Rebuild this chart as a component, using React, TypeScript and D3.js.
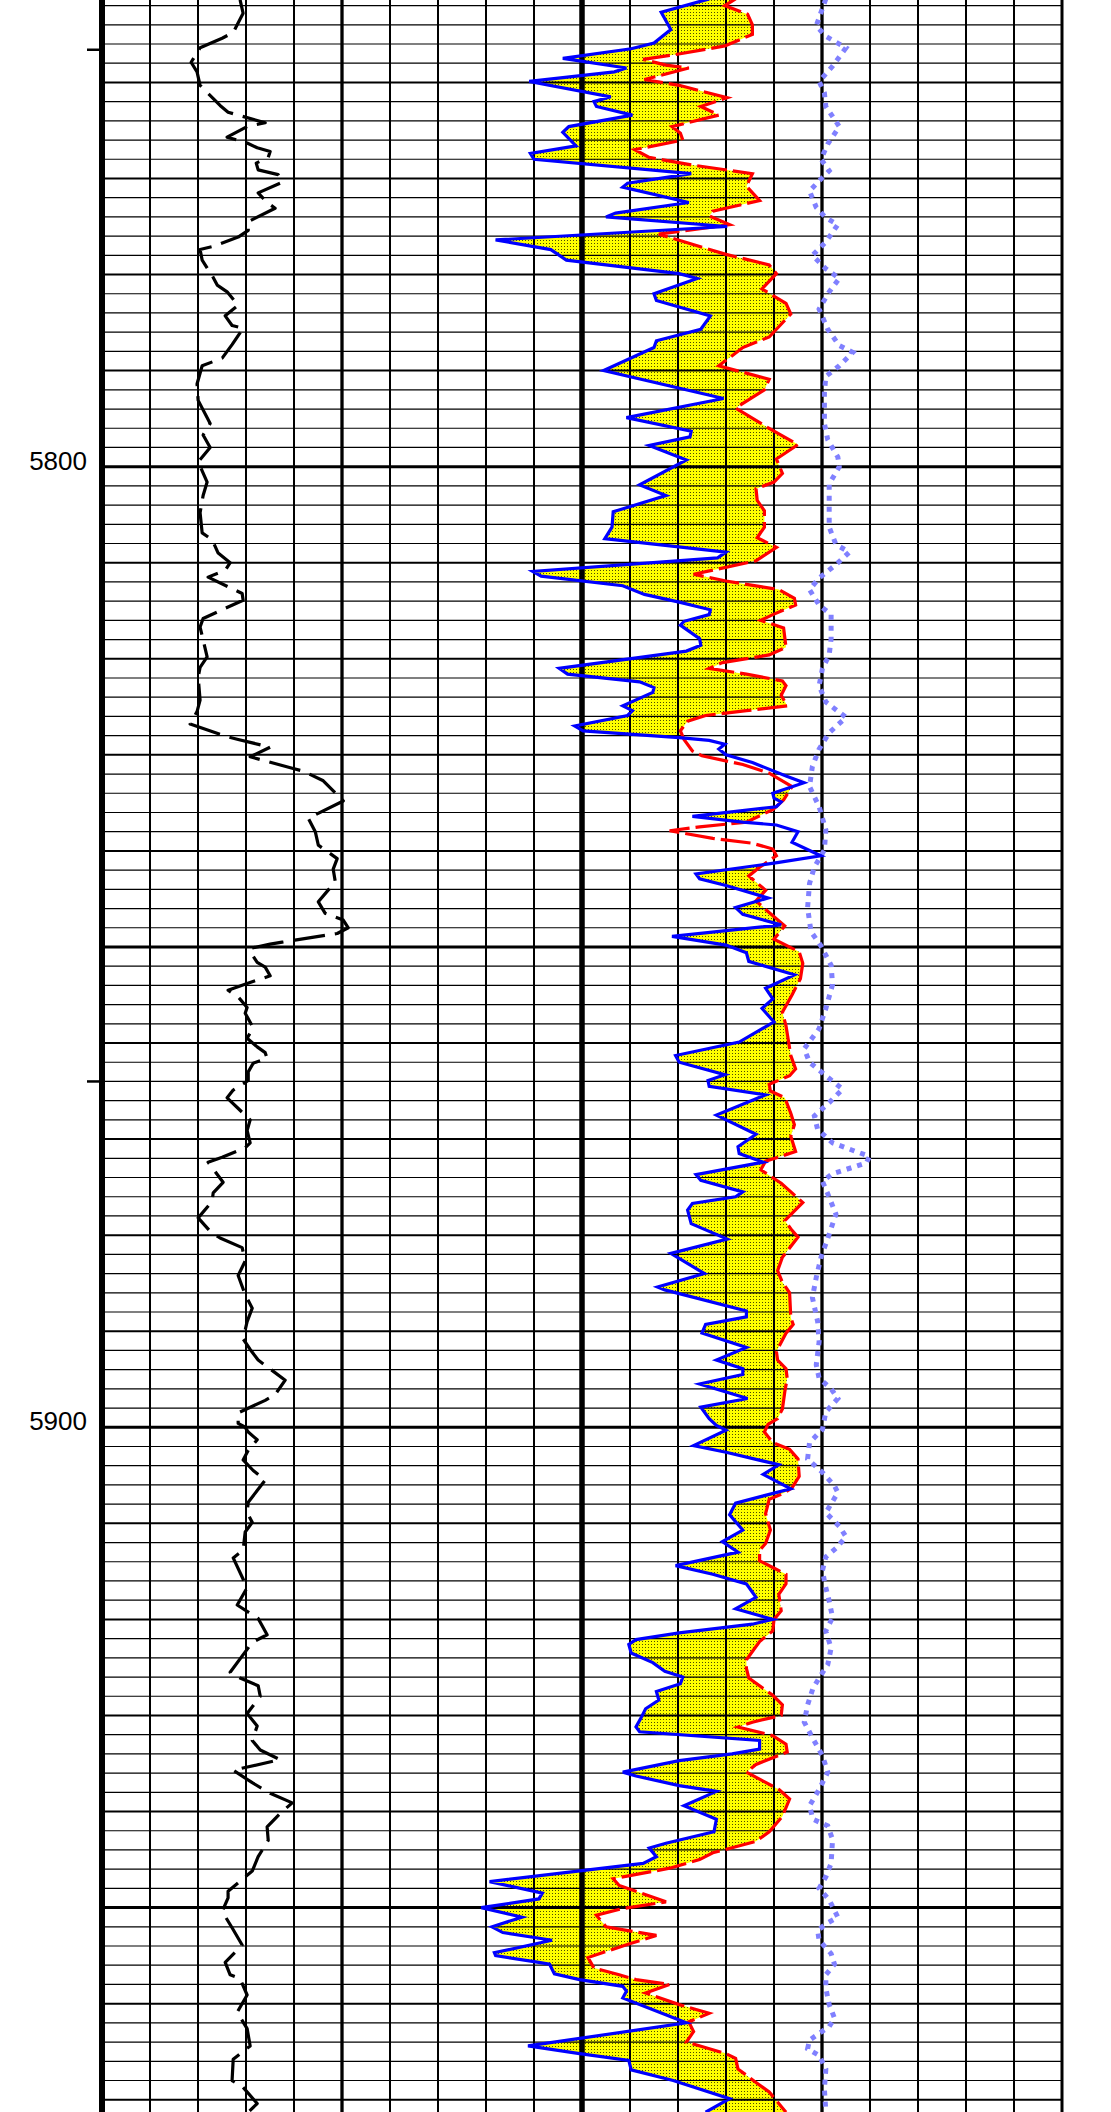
import React from 'react';
import * as d3 from 'd3';

type P = [number, number]; // [depth, value]

const W = 1111;
const H = 2112;
const DEPTH_TOP = 5751.42;
const DEPTH_BOTTOM = 5971.28;
const X_LEFT = 102;
const X_RIGHT = 1062;

const depthLabels = [5800, 5900];
const depthTicks = [5756.6, 5864.0];

// Gamma ray (track 1, 0-150)
const gammaRay: P[] = [
  [5751.4, 86.3], [5752.8, 88.2], [5754.8, 82.0], [5755.4, 75.1], [5756.4, 61.3], [5757.9, 55.7], [5758.9, 59.4],
  [5760.3, 61.3], [5762.4, 73.8], [5763.1, 78.8], [5764.2, 102.0], [5764.6, 90.7], [5765.7, 78.2], [5766.3, 90.7],
  [5766.8, 97.0], [5767.2, 105.1], [5767.8, 103.9], [5768.4, 96.4], [5769.1, 97.6], [5769.6, 110.1], [5770.4, 112.6],
  [5771.5, 97.6], [5772.5, 103.2], [5773.1, 108.2], [5774.5, 91.4], [5775.4, 91.4], [5776.1, 85.1], [5777.1, 68.8],
  [5777.4, 61.3], [5778.5, 62.6], [5780.3, 69.5], [5781.1, 72.0], [5781.8, 78.2], [5783.2, 85.1], [5784.3, 77.0],
  [5785.3, 81.3], [5785.6, 88.2], [5787.3, 81.3], [5788.7, 75.1], [5789.5, 62.6], [5791.4, 59.4], [5793.1, 60.1],
  [5795.5, 67.6], [5796.7, 63.2], [5798.0, 67.6], [5799.5, 60.1], [5801.6, 65.7], [5803.0, 63.2], [5804.8, 61.3],
  [5806.9, 62.6], [5807.6, 68.8], [5809.0, 72.6], [5810.0, 80.1], [5810.8, 77.0], [5811.5, 66.3], [5813.2, 87.6],
  [5813.9, 88.2], [5815.8, 63.2], [5816.7, 61.3], [5819.8, 65.7], [5820.9, 61.3], [5821.9, 60.1], [5824.3, 61.3],
  [5825.5, 59.4], [5826.8, 55.1], [5828.1, 78.2], [5828.4, 85.1], [5829.2, 105.1], [5830.2, 92.6], [5831.4, 118.9],
  [5831.7, 125.8], [5832.7, 138.3], [5834.8, 150.8], [5836.6, 128.9], [5838.0, 133.3], [5839.4, 135.2],
  [5840.8, 147.0], [5841.9, 144.5], [5843.2, 145.8], [5845.3, 135.2], [5846.5, 139.5], [5847.2, 150.8],
  [5848.0, 153.9], [5848.6, 147.0], [5849.5, 112.6], [5849.7, 105.1], [5850.1, 93.9], [5850.5, 92.6],
  [5851.6, 97.0], [5852.1, 102.0], [5853.0, 105.1], [5853.8, 90.7], [5854.5, 78.8], [5855.2, 85.1], [5856.3, 90.7],
  [5856.9, 89.5], [5858.4, 94.5], [5859.5, 90.7], [5860.4, 97.0], [5861.0, 102.0], [5861.6, 103.2], [5862.1, 94.5],
  [5863.0, 91.4], [5863.9, 91.4], [5864.9, 82.0], [5865.7, 78.2], [5867.0, 86.3], [5868.0, 92.6], [5869.1, 90.7],
  [5870.4, 92.6], [5870.9, 89.5], [5871.9, 75.1], [5872.4, 66.3], [5874.5, 75.7], [5875.6, 69.5], [5876.5, 68.8],
  [5878.2, 60.1], [5879.6, 67.6], [5880.3, 73.8], [5881.3, 87.6], [5882.7, 89.5], [5884.2, 85.1], [5886.2, 89.5],
  [5887.6, 93.9], [5889.0, 90.7], [5890.8, 88.2], [5891.9, 92.6], [5893.0, 97.6], [5893.7, 103.2], [5895.1, 114.5],
  [5896.6, 108.2], [5897.2, 102.0], [5898.5, 85.1], [5899.6, 85.1], [5900.0, 89.5], [5900.5, 91.4], [5901.3, 97.0],
  [5902.4, 91.4], [5903.4, 88.2], [5904.5, 94.5], [5905.5, 102.0], [5907.8, 91.4], [5908.9, 90.7], [5909.9, 93.9],
  [5910.9, 89.5], [5912.8, 88.2], [5913.6, 82.0], [5916.7, 90.7], [5918.5, 84.5], [5919.9, 97.6], [5921.6, 103.2],
  [5922.4, 93.9], [5925.5, 80.1], [5926.1, 86.3], [5926.9, 97.6], [5928.0, 98.9], [5929.8, 90.7], [5931.1, 97.0],
  [5932.6, 93.9], [5933.6, 98.9], [5934.6, 111.3], [5935.7, 82.0], [5937.0, 93.9], [5938.1, 105.1], [5939.1, 118.9],
  [5940.2, 111.3], [5941.6, 103.2], [5943.0, 103.9], [5944.7, 97.6], [5946.2, 93.9], [5948.3, 78.8], [5949.0, 78.8],
  [5950.4, 75.1], [5952.1, 81.3], [5953.9, 87.6], [5955.7, 77.0], [5957.0, 80.1], [5957.4, 86.3], [5959.1, 90.7],
  [5960.9, 84.5], [5962.6, 90.7], [5964.4, 92.6], [5965.8, 82.0], [5968.0, 81.3], [5968.6, 87.6], [5970.4, 97.0],
  [5971.3, 91.4],
];

// Neutron porosity, blue (45 .. -15)
const neutron: P[] = [
  [5751.3, 14.4], [5752.7, 18.4], [5754.5, 17.6], [5755.9, 19.0], [5756.5, 20.9], [5757.5, 26.6], [5758.5, 21.3],
  [5758.9, 22.3], [5759.9, 29.4], [5761.5, 22.6], [5762.0, 24.0], [5762.5, 23.8], [5763.4, 20.8], [5764.6, 26.1],
  [5765.2, 26.6], [5766.6, 25.5], [5767.4, 29.3], [5768.0, 29.0], [5769.5, 15.9], [5770.5, 21.2], [5770.9, 21.6],
  [5772.5, 16.1], [5773.6, 22.2], [5774.0, 23.0], [5775.0, 12.9], [5776.4, 32.2], [5777.4, 27.6], [5778.5, 26.3],
  [5779.9, 16.9], [5780.4, 15.4], [5782.0, 19.0], [5782.7, 18.8], [5784.3, 14.3], [5785.7, 15.1], [5786.9, 18.8],
  [5787.6, 19.0], [5790.0, 23.2], [5792.9, 13.2], [5794.9, 21.3], [5796.3, 15.9], [5796.9, 16.0], [5797.8, 19.4],
  [5799.3, 16.3], [5801.9, 20.2], [5803.0, 18.0], [5804.7, 22.4], [5806.3, 22.5], [5807.5, 23.1], [5808.9, 13.0],
  [5809.5, 13.7], [5810.9, 29.1], [5811.4, 28.4], [5812.4, 21.6], [5813.3, 19.8], [5814.1, 16.9], [5814.9, 14.3],
  [5815.4, 14.4], [5816.1, 16.5], [5816.5, 16.8], [5817.9, 15.2], [5818.6, 15.1], [5819.2, 16.3], [5821.0, 26.9],
  [5821.6, 26.2], [5822.4, 20.2], [5823.0, 19.0], [5823.5, 19.1], [5824.9, 21.6], [5825.4, 20.8], [5825.9, 21.2],
  [5827.0, 25.6], [5827.5, 24.9], [5828.2, 16.9], [5828.5, 14.4], [5828.9, 13.1], [5829.4, 13.6], [5830.0, 13.0],
  [5830.8, 10.8], [5832.2, 8.0], [5832.9, 6.5], [5834.0, 9.1], [5834.5, 9.0], [5834.9, 8.4], [5835.4, 8.8],
  [5836.4, 15.8], [5837.0, 11.6], [5837.3, 8.8], [5838.0, 7.0], [5839.1, 7.5], [5840.5, 5.1], [5841.2, 8.6],
  [5842.4, 15.5], [5842.9, 15.2], [5843.6, 13.0], [5844.9, 9.5], [5845.9, 12.2], [5846.6, 11.6], [5847.7, 8.4],
  [5848.9, 17.5], [5849.8, 13.0], [5850.6, 11.3], [5851.5, 11.1], [5852.9, 7.3], [5854.3, 9.7], [5855.4, 9.1],
  [5856.4, 10.0], [5857.8, 9.0], [5859.9, 11.9], [5861.3, 17.2], [5862.0, 16.9], [5863.3, 13.1], [5863.9, 14.5],
  [5864.5, 14.4], [5865.4, 9.7], [5867.5, 13.8], [5869.5, 10.5], [5870.8, 12.0], [5871.5, 11.9], [5872.4, 9.9],
  [5873.7, 15.5], [5874.3, 15.1], [5875.5, 11.6], [5876.0, 12.2], [5876.7, 15.8], [5877.4, 16.2], [5878.8, 15.9],
  [5880.4, 12.9], [5881.9, 17.6], [5884.0, 14.8], [5885.4, 18.7], [5885.7, 18.1], [5887.9, 11.3], [5888.5, 11.3],
  [5889.3, 14.7], [5890.2, 15.0], [5891.7, 11.3], [5893.0, 13.8], [5893.9, 11.6], [5894.5, 11.6], [5895.5, 15.2],
  [5897.0, 11.2], [5897.9, 15.1], [5899.1, 14.4], [5899.8, 13.8], [5900.3, 13.0], [5901.9, 15.7], [5902.6, 13.0],
  [5903.9, 8.6], [5904.9, 9.9], [5906.4, 7.6], [5907.9, 12.2], [5909.1, 12.7], [5910.7, 11.6], [5911.9, 13.3],
  [5913.0, 12.0], [5914.4, 17.2], [5915.3, 14.1], [5916.3, 11.3], [5917.7, 10.5], [5918.9, 12.2], [5920.0, 9.1],
  [5920.5, 10.8], [5921.4, 16.9], [5922.1, 20.5], [5922.6, 21.1], [5923.5, 20.9], [5924.5, 19.1], [5925.4, 18.1],
  [5926.0, 16.6], [5926.7, 16.8], [5927.5, 18.8], [5928.4, 18.6], [5929.3, 19.7], [5930.3, 20.1], [5931.2, 20.5],
  [5931.7, 20.2], [5932.6, 10.2], [5933.5, 10.2], [5934.0, 12.5], [5934.7, 16.9], [5935.9, 21.6], [5936.3, 20.5],
  [5937.3, 16.9], [5937.9, 13.8], [5939.4, 16.5], [5940.5, 14.4], [5940.8, 13.8], [5942.1, 14.0], [5943.3, 18.0],
  [5943.8, 19.4], [5944.7, 18.8], [5945.4, 19.9], [5947.3, 32.7], [5948.5, 28.3], [5949.1, 28.6], [5950.0, 33.4],
  [5951.0, 30.0], [5952.0, 32.5], [5952.6, 31.6], [5953.4, 27.5], [5954.7, 32.3], [5955.0, 32.2], [5955.7, 28.6],
  [5955.9, 27.7], [5956.9, 27.3], [5957.5, 25.2], [5958.2, 21.6], [5958.7, 21.3], [5959.4, 21.6], [5961.7, 16.9],
  [5962.0, 16.3], [5964.4, 29.5], [5965.2, 25.2], [5965.9, 21.1], [5966.9, 20.9], [5968.0, 17.4], [5969.9, 12.7],
  [5971.3, 14.7],
];

// Density porosity, red (45 .. -15)
const density: P[] = [
  [5751.3, 12.2], [5752.0, 13.1], [5752.9, 11.2], [5754.0, 10.8], [5755.0, 10.8], [5756.2, 13.1], [5757.1, 17.2],
  [5757.6, 19.9], [5758.2, 18.0], [5758.5, 16.1], [5759.7, 19.8], [5760.3, 16.9], [5761.6, 12.9], [5762.5, 15.1],
  [5763.4, 13.6], [5764.6, 17.5], [5765.3, 16.8], [5766.0, 16.6], [5767.0, 20.6], [5767.8, 19.4], [5768.6, 15.8],
  [5769.5, 10.8], [5770.8, 11.3], [5772.3, 10.2], [5773.4, 14.1], [5773.9, 14.4], [5774.8, 12.7], [5775.8, 18.6],
  [5777.9, 13.0], [5779.0, 9.4], [5779.9, 8.8], [5781.5, 10.0], [5783.0, 8.0], [5784.1, 7.6], [5786.5, 9.4],
  [5787.6, 11.6], [5789.5, 13.6], [5790.9, 9.4], [5792.0, 9.8], [5793.9, 12.2], [5795.8, 9.7], [5797.7, 7.0],
  [5799.2, 8.8], [5800.7, 8.3], [5801.6, 9.0], [5802.3, 10.5], [5803.5, 10.4], [5804.6, 9.8], [5806.3, 9.8],
  [5807.4, 10.4], [5808.4, 8.8], [5809.8, 10.5], [5811.2, 15.7], [5811.9, 13.0], [5812.8, 8.6], [5813.7, 7.3],
  [5814.4, 7.2], [5815.4, 9.1], [5816.0, 10.1], [5816.8, 8.2], [5818.8, 8.0], [5819.6, 9.4], [5820.4, 13.3],
  [5821.0, 14.4], [5821.6, 11.3], [5822.3, 8.3], [5822.8, 8.0], [5823.8, 8.4], [5824.9, 7.9], [5825.4, 11.3],
  [5825.9, 14.7], [5826.5, 16.2], [5827.5, 16.8], [5828.4, 16.5], [5829.6, 15.8], [5830.1, 15.0], [5831.0, 11.6],
  [5831.9, 9.4], [5833.3, 7.5], [5834.7, 8.2], [5835.7, 9.1], [5837.0, 11.3], [5837.5, 15.2], [5837.9, 17.7],
  [5838.7, 14.1], [5839.2, 10.8], [5839.8, 9.1], [5840.5, 8.8], [5841.7, 10.2], [5842.6, 11.1], [5844.1, 9.7],
  [5845.2, 10.5], [5846.1, 9.7], [5847.8, 8.1], [5849.2, 9.0], [5850.5, 6.9], [5851.7, 6.6], [5853.3, 6.8],
  [5855.0, 7.5], [5856.8, 8.3], [5858.2, 8.0], [5861.3, 7.6], [5862.7, 7.2], [5863.4, 7.7], [5864.3, 9.4],
  [5865.0, 9.3], [5865.7, 8.1], [5867.3, 7.6], [5868.5, 7.3], [5869.7, 7.6], [5871.3, 7.2], [5872.3, 9.7],
  [5873.2, 10.1], [5874.6, 8.4], [5876.6, 6.6], [5878.5, 8.1], [5879.5, 7.5], [5880.2, 7.0], [5882.3, 8.3],
  [5883.7, 8.7], [5884.9, 8.3], [5886.0, 7.7], [5888.6, 7.6], [5889.3, 7.4], [5890.2, 8.0], [5892.1, 8.8],
  [5893.0, 8.7], [5893.9, 8.0], [5894.9, 7.9], [5896.3, 8.1], [5898.1, 8.3], [5899.1, 8.7], [5899.7, 9.5],
  [5900.5, 9.8], [5901.6, 9.1], [5902.3, 7.7], [5903.3, 7.0], [5905.1, 6.9], [5906.3, 7.5], [5906.8, 8.1],
  [5907.5, 9.4], [5909.0, 9.7], [5910.7, 9.3], [5912.1, 9.7], [5912.8, 10.2], [5913.9, 10.2], [5914.6, 9.1],
  [5915.3, 8.0], [5916.3, 8.0], [5917.4, 8.6], [5919.1, 8.4], [5920.0, 9.0], [5921.2, 9.1], [5922.3, 10.2],
  [5924.2, 11.3], [5925.1, 11.3], [5926.1, 11.1], [5927.9, 9.1], [5928.9, 8.3], [5930.0, 8.4], [5930.7, 10.8],
  [5931.2, 12.0], [5932.1, 9.1], [5933.0, 8.0], [5933.8, 7.9], [5935.1, 10.5], [5935.9, 11.3], [5937.7, 8.6],
  [5938.7, 7.7], [5940.5, 8.3], [5942.1, 9.4], [5943.1, 10.5], [5944.3, 14.1], [5945.0, 15.2], [5945.9, 17.7],
  [5947.0, 22.4], [5947.7, 21.9], [5949.4, 18.0], [5950.1, 21.6], [5950.8, 23.8], [5952.0, 23.0], [5952.9, 18.8],
  [5953.8, 21.1], [5955.2, 24.5], [5956.3, 24.0], [5957.0, 21.9], [5957.5, 20.5], [5958.0, 17.7], [5958.9, 19.7],
  [5960.1, 16.9], [5961.0, 14.4], [5961.9, 16.1], [5962.9, 15.7], [5964.0, 16.3], [5965.2, 13.0], [5965.7, 12.2],
  [5966.8, 12.0], [5968.2, 10.5], [5969.2, 9.4], [5971.3, 8.0],
];

// Photoelectric factor, light blue dotted (0 .. 15)
const photoElectric: P[] = [
  [5751.3, 10.08], [5754.1, 9.88], [5755.2, 10.08], [5756.4, 10.5], [5758.3, 10.22], [5759.9, 9.94], [5761.1, 10.05],
  [5762.5, 10.08], [5764.6, 10.36], [5766.4, 10.12], [5768.0, 9.98], [5769.2, 10.15], [5769.9, 10.01], [5771.3, 9.74],
  [5773.0, 9.88], [5774.1, 10.08], [5774.8, 10.33], [5776.6, 10.08], [5778.0, 9.8], [5779.4, 10.08], [5780.4, 10.36],
  [5781.8, 10.15], [5783.6, 9.94], [5785.7, 10.12], [5787.4, 10.36], [5788.1, 10.64], [5789.5, 10.36], [5790.6, 10.08],
  [5792.3, 10.05], [5795.5, 10.05], [5797.2, 10.12], [5799.0, 10.33], [5800.0, 10.36], [5801.8, 10.15], [5803.9, 10.15],
  [5806.3, 10.15], [5808.1, 10.29], [5808.9, 10.57], [5810.2, 10.29], [5811.6, 9.94], [5812.8, 9.74], [5814.4, 9.94],
  [5815.4, 10.19], [5817.9, 10.19], [5819.6, 10.15], [5821.0, 10.01], [5822.8, 9.94], [5824.5, 10.08], [5826.1, 10.5],
  [5827.7, 10.15], [5829.4, 9.94], [5831.2, 9.8], [5833.3, 9.74], [5835.4, 9.94], [5837.8, 10.08], [5839.9, 10.05],
  [5841.7, 9.84], [5843.4, 9.74], [5845.9, 9.7], [5848.4, 9.77], [5849.9, 9.98], [5851.9, 10.19], [5853.9, 10.22],
  [5856.4, 10.08], [5858.5, 9.94], [5860.6, 9.63], [5862.0, 9.74], [5863.4, 10.08], [5864.8, 10.43], [5866.2, 10.15],
  [5867.6, 9.84], [5869.0, 9.91], [5870.4, 10.22], [5871.3, 10.71], [5871.8, 10.99], [5872.5, 10.92], [5873.6, 10.22],
  [5874.4, 10.01], [5875.7, 10.12], [5877.8, 10.29], [5879.9, 10.15], [5882.3, 9.98], [5884.4, 9.88], [5886.5, 9.8],
  [5889.0, 9.91], [5891.1, 9.94], [5893.5, 9.88], [5894.9, 9.94], [5896.0, 10.19], [5897.0, 10.33], [5898.4, 10.08],
  [5900.2, 10.01], [5901.6, 9.74], [5903.3, 9.7], [5904.7, 10.01], [5906.1, 10.26], [5906.8, 10.33], [5908.9, 10.08],
  [5910.3, 10.36], [5911.4, 10.5], [5912.6, 10.29], [5913.5, 10.08], [5914.9, 10.01], [5916.3, 10.06], [5918.1, 10.15],
  [5919.8, 10.22], [5921.2, 10.08], [5923.0, 10.19], [5924.7, 10.12], [5926.1, 9.94], [5927.2, 9.81], [5928.9, 9.7],
  [5930.7, 9.63], [5932.4, 9.81], [5934.2, 10.01], [5935.9, 10.12], [5937.7, 9.94], [5939.4, 9.74], [5940.8, 9.81],
  [5941.5, 10.12], [5942.9, 10.22], [5945.4, 10.19], [5946.8, 10.08], [5948.0, 9.94], [5949.2, 10.15], [5951.0, 10.33],
  [5951.7, 10.08], [5952.4, 9.91], [5953.4, 9.94], [5954.8, 10.19], [5955.9, 10.26], [5957.0, 10.08], [5958.4, 10.08],
  [5960.1, 10.15], [5961.5, 10.26], [5962.4, 10.15], [5963.1, 9.94], [5963.8, 9.74], [5964.7, 9.7], [5965.4, 9.94],
  [5966.8, 10.08], [5968.9, 10.05], [5971.2, 10.08],
];

export default function App() {
  const y = d3.scaleLinear().domain([DEPTH_TOP, DEPTH_BOTTOM]).range([0, H]);
  const div = (X_RIGHT - X_LEFT) / 20;
  const xTrack2 = X_LEFT + 5 * div;
  const xGR = d3.scaleLinear().domain([0, 150]).range([X_LEFT, xTrack2]);
  const xPor = d3.scaleLinear().domain([45, -15]).range([xTrack2, X_RIGHT]);
  const xPE = d3.scaleLinear().domain([0, 15]).range([xTrack2, X_RIGHT]);

  const mkLine = (xs: d3.ScaleLinear<number, number>) =>
    d3.line<P>().x((d) => xs(d[1])).y((d) => y(d[0]));

  const rightOfBlue = d3
    .area<P>()
    .y((d) => y(d[0]))
    .x0((d) => xPor(d[1]))
    .x1(() => X_RIGHT + 20)(neutron) as string;
  const leftOfRed = d3
    .area<P>()
    .y((d) => y(d[0]))
    .x0(() => X_LEFT - 20)
    .x1((d) => xPor(d[1]))(density) as string;

  const hDepths = d3.range(Math.ceil(DEPTH_TOP / 2) * 2, DEPTH_BOTTOM, 2);
  const vIdx = d3.range(0, 21);

  const hWidth = (d: number) => (d % 50 === 0 ? 3 : d % 10 === 0 ? 2 : 1.2);
  const vWidth = (i: number) =>
    i === 0 ? 6 : i === 10 ? 5.5 : i === 5 || i === 15 ? 3.3 : i === 20 ? 3 : 2;

  return (
    <svg
      width={W}
      height={H}
      style={{ position: 'absolute', left: 0, top: 0, display: 'block', background: '#fff' }}
    >
      <defs>
        <pattern id="dots" width="3" height="3" patternUnits="userSpaceOnUse">
          <rect width="3" height="3" fill="#ffff00" />
          <rect width="1" height="1" fill="#4d4d00" />
        </pattern>
        <clipPath id="leftOfRed">
          <path d={leftOfRed} />
        </clipPath>
      </defs>
      <rect x={0} y={0} width={W} height={H} fill="#fff" />

      {/* crossover fill */}
      <path d={rightOfBlue} fill="url(#dots)" clipPath="url(#leftOfRed)" />

      {/* grid */}
      <g>
        {hDepths.map((d) => (
          <line
            key={'h' + d}
            x1={X_LEFT}
            x2={X_RIGHT}
            y1={y(d)}
            y2={y(d)}
            stroke="#000"
            strokeWidth={hWidth(d)}
          />
        ))}
        {vIdx.map((i) => (
          <line
            key={'v' + i}
            x1={X_LEFT + i * div}
            x2={X_LEFT + i * div}
            y1={0}
            y2={H}
            stroke="#000"
            strokeWidth={vWidth(i)}
          />
        ))}
      </g>

      {/* depth axis */}
      <g fontFamily="'Liberation Sans', Arial, sans-serif" fontSize={26} fill="#000">
        {depthLabels.map((d) => (
          <text key={d} x={87} y={y(d) - 4} textAnchor="end" dominantBaseline="middle">
            {d}
          </text>
        ))}
        {depthTicks.map((d) => (
          <line key={'t' + d} x1={87} x2={X_LEFT} y1={y(d)} y2={y(d)} stroke="#000" strokeWidth={2.5} />
        ))}
      </g>

      {/* curves */}
      <path
        d={mkLine(xGR)(gammaRay) as string}
        fill="none"
        stroke="#000"
        strokeWidth={3.2}
        strokeDasharray="32 10"
        strokeLinejoin="round"
      />
      <path
        d={mkLine(xPE)(photoElectric) as string}
        fill="none"
        stroke="#8080ff"
        strokeWidth={5}
        strokeDasharray="5 6"
      />
      <path
        d={mkLine(xPor)(density) as string}
        fill="none"
        stroke="#ff0000"
        strokeWidth={3.2}
        strokeDasharray="30 6"
      />
      <path d={mkLine(xPor)(neutron) as string} fill="none" stroke="#0000ff" strokeWidth={3.2} />
    </svg>
  );
}
